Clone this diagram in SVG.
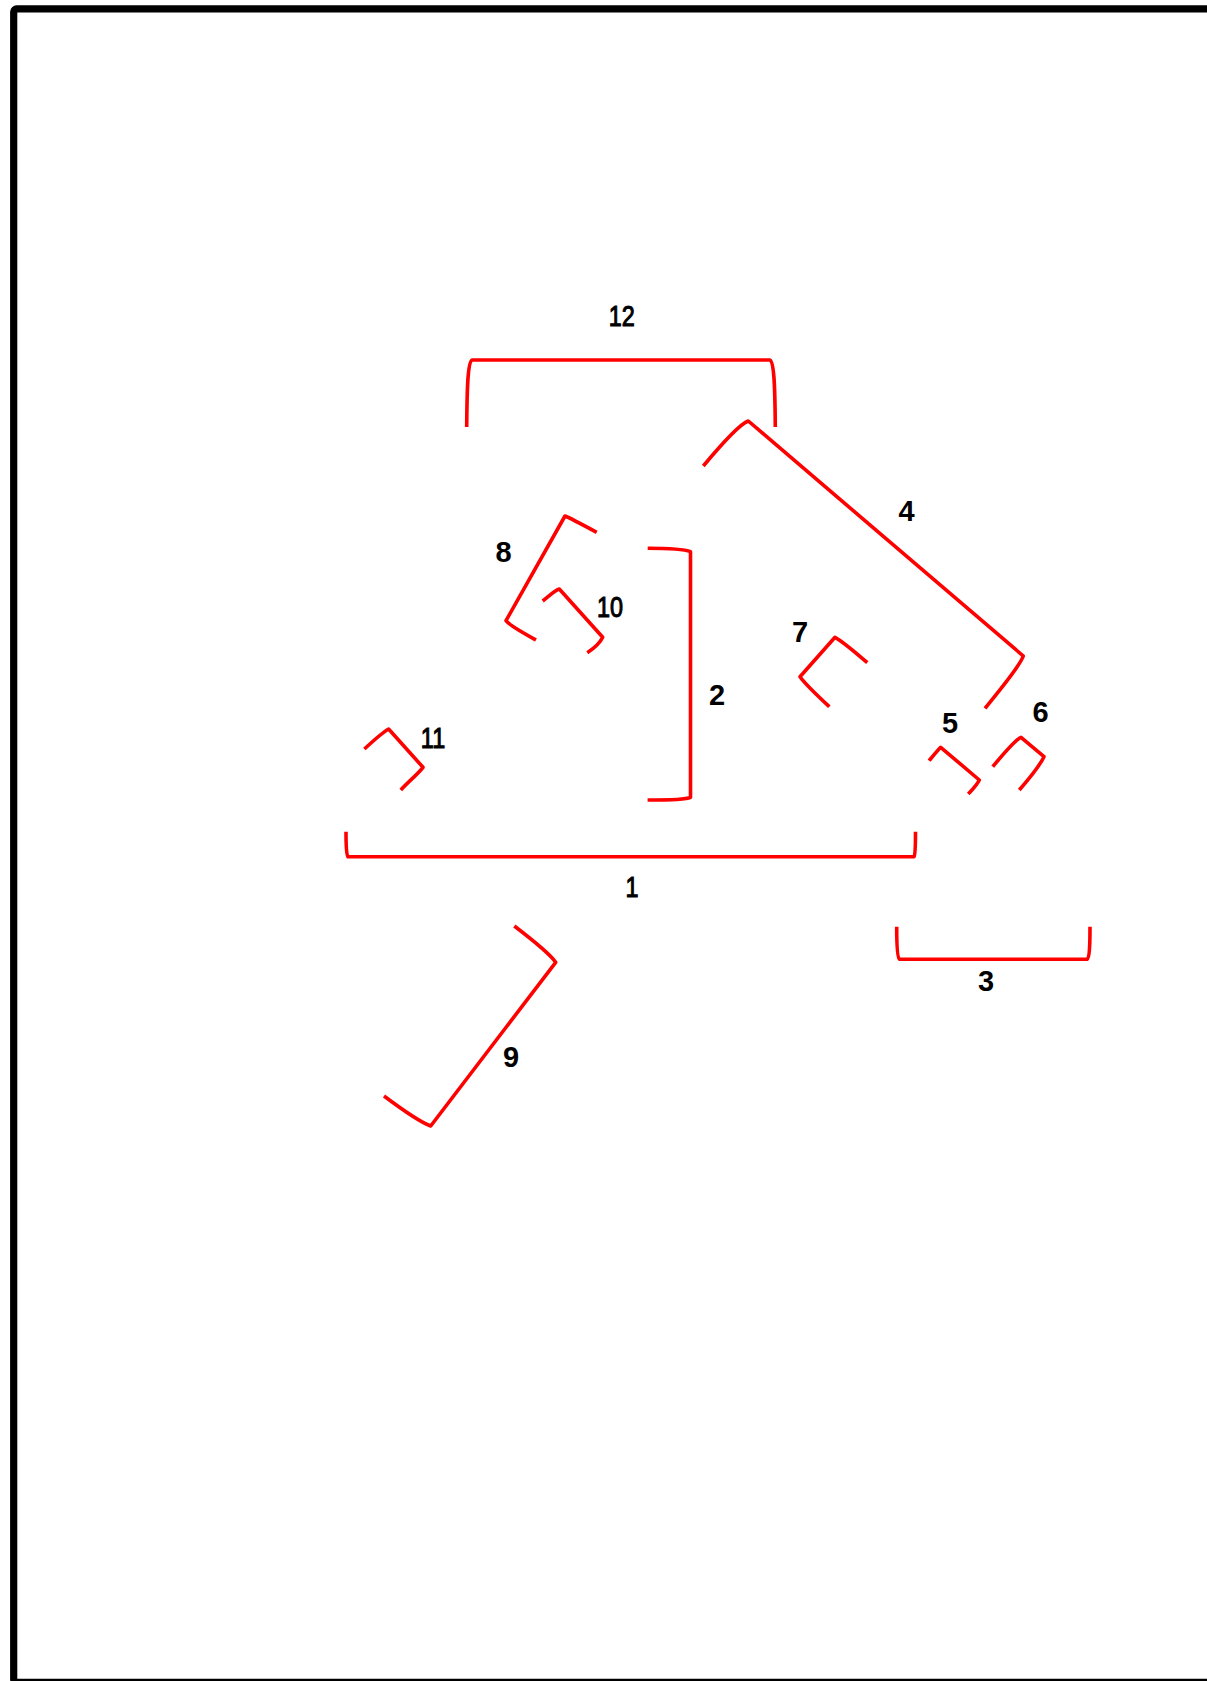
<svg xmlns="http://www.w3.org/2000/svg" width="1207" height="1681" viewBox="0 0 1207 1681">
<style>
.br{fill:none;stroke:#ff0000;stroke-width:3.6;stroke-linejoin:round;stroke-linecap:butt}
.lb{font-family:"Liberation Sans",Arial,sans-serif;font-weight:bold;font-size:29px;fill:#000;text-anchor:middle}
.ln{font-family:"Liberation Sans",Arial,sans-serif;font-weight:normal;font-size:30px;fill:#000;stroke:#000;stroke-width:1.1;text-anchor:middle}
</style>
<rect width="1207" height="1681" fill="#fff"/>
<rect id="frame" x="13.7" y="8.8" width="1400" height="1673.5" rx="3" fill="none" stroke="#000" stroke-width="7.2"/>
<g id="connectors"></g>
<g id="b12">
<path class="br" d="M466.7,427 C467,385 468,362 472,360 L770,360 C774,362 775,385 775.3,427"/>
<text class="ln" transform="translate(621.7,326.2) scale(0.78,1)">12</text>
</g>
<g id="b4">
<path class="br" d="M703.3,466 C720,446 740,424 748.3,421 L1023.3,656 C1020,666 1000,690 985,708.3"/>
<text class="lb" x="906.5" y="521">4</text>
</g>
<g id="b8">
<path class="br" d="M596.7,532.3 C585,526 570,518 565,516 L506,620.7 C510,626 525,634 536,640"/>
<text class="lb" x="503.5" y="562">8</text>
</g>
<g id="b10">
<path class="br" d="M542.7,601 C548,597 555,590 559.3,589 L602.7,637.3 C600,643 593,649 587.3,652.7"/>
<text class="ln" transform="translate(610,616.5) scale(0.78,1)">10</text>
</g>
<g id="b2">
<path class="br" d="M647.7,548.3 C665,548.3 685,549.5 690.5,551.7 L690.5,797.3 C686,799.5 665,800 647.6,800"/>
<text class="lb" x="717" y="705">2</text>
</g>
<g id="b7">
<path class="br" d="M867.3,662.7 C855,652 840,640 835,637.3 L800,676.7 C805,684 820,698 829.3,706.7"/>
<text class="lb" x="800" y="642">7</text>
</g>
<g id="b11">
<path class="br" d="M364.4,749 C372,742 383,732 388.6,729 L423,767.3 C418,774 408,782 400.8,790"/>
<text class="ln" transform="translate(433,747.5) scale(0.78,1)">11</text>
</g>
<g id="b5">
<path class="br" d="M929,760.7 C933,756 938,750 940.7,747.3 L979.3,780 C977,785 972,790 968.3,794"/>
<text class="lb" x="950" y="733">5</text>
</g>
<g id="b6">
<path class="br" d="M992.7,766.7 C1000,758 1015,740 1021,737.3 L1044,756.7 C1040,765 1028,780 1019.3,790"/>
<text class="lb" x="1040.5" y="722">6</text>
</g>
<g id="b1">
<path class="br" d="M346,831.7 C346,845 346.5,855 348,856.7 L914,856.7 C915.3,855 915.5,845 915.5,831.7"/>
<text class="ln" transform="translate(632,896.5) scale(0.78,1)">1</text>
</g>
<g id="b3">
<path class="br" d="M896.7,926.7 C896.7,945 897.5,958 899.5,959.3 L1087,959.3 C1089.5,958 1090,945 1090,926.7"/>
<text class="lb" x="986" y="991">3</text>
</g>
<g id="b9">
<path class="br" d="M514.3,926 C530,938 550,954 555.7,962.3 L430.7,1126 C420,1122 400,1108 384,1096"/>
<text class="lb" x="511" y="1067">9</text>
</g>
</svg>
